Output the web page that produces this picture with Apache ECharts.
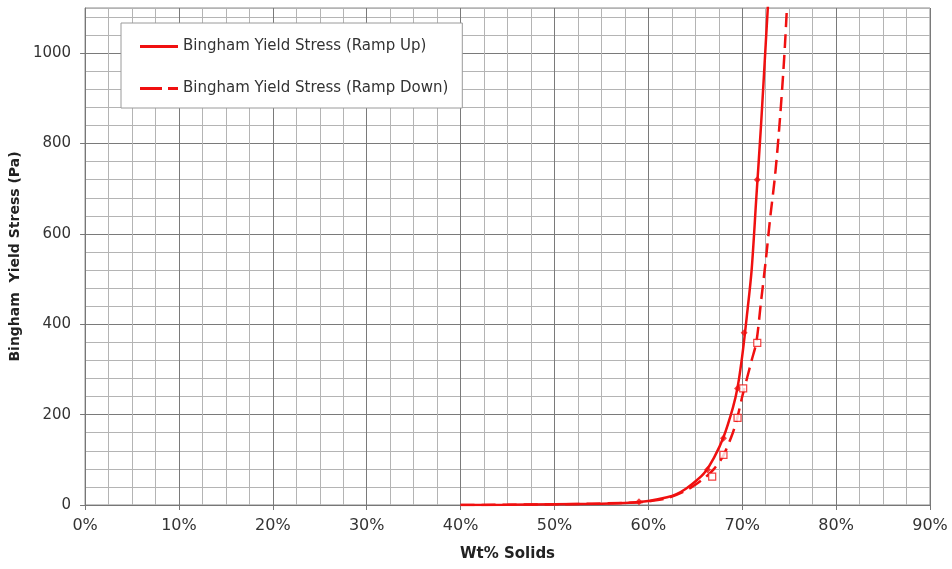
<!DOCTYPE html>
<html>
<head>
<meta charset="utf-8">
<script src="https://cdn.jsdelivr.net/npm/echarts@6/dist/echarts.min.js"></script>
<style>html,body{margin:0;padding:0;background:#fff}#c{width:952px;height:569px}</style>
</head>
<body>
<div id="c"></div>
<script>
// Wt% solids (x) and Bingham yield stress in Pa (y)
const rampUpX   = [40, 45, 50, 55, 58, 60, 62, 63, 64, 65, 66, 67, 68, 69, 69.5, 70, 70.5, 71, 71.5, 72, 72.5, 73];
const rampUpY   = [0, 0.5, 1.5, 3, 5, 9, 17, 24, 36, 52, 72, 105, 150, 215, 260, 330, 420, 520, 680, 840, 1020, 1200];
const rampDownX = [40, 50, 58, 60, 62, 64, 65, 66, 67, 68, 69, 69.5, 70, 70.5, 71, 71.5, 72, 72.5, 73, 73.5, 74, 74.5, 75];
const rampDownY = [0, 1.5, 5, 8, 15, 32, 45, 60, 80, 110, 160, 195, 240, 280, 320, 360, 450, 540, 640, 730, 850, 1000, 1200];
// measured points (markers)
const upPtsX   = [59, 66.3, 68, 69.5, 70.2, 71.6];
const upPtsY   = [7, 78, 148, 258, 381, 720];
const downPtsX = [66.8, 68, 69.5, 70.1, 71.6];
const downPtsY = [63, 111, 193, 258, 359];
const xTicks = [0, 10, 20, 30, 40, 50, 60, 70, 80, 90];
const yTicks = [0, 200, 400, 600, 800, 1000];
const nameUp = 'Bingham Yield Stress (Ramp Up)';
const nameDown = 'Bingham Yield Stress (Ramp Down)';

const zip = (a, b) => a.map((v, i) => [v, b[i]]);
const RED = '#f01010';
const DARK = '#7a7a7a', LIGHT = '#b4b4b4';
const FONT = 'DejaVu Sans';

const chart = echarts.init(document.getElementById('c'));
chart.setOption({
  animation: false,
  textStyle: { fontFamily: FONT },
  grid: { left: 84, right: 22, top: 8, bottom: 64, show: true, borderColor: '#8a8a8a', borderWidth: 1 },
  legend: {
    orient: 'vertical', left: 121, top: 23,
    data: [
      { name: nameUp, icon: 'path://M0,0H38V3H0Z' },
      { name: nameDown, icon: 'path://M0,0H22V3H0Z M28,0H38V3H28Z' }
    ],
    backgroundColor: '#fff', borderColor: '#9a9a9a', borderWidth: 1,
    padding: [16, 14, 12, 19], itemGap: 27, itemWidth: 38, itemHeight: 3,
    itemStyle: { color: RED },
    textStyle: { fontFamily: FONT, fontSize: 15, color: '#333', lineHeight: 14 }
  },
  xAxis: {
    type: 'value', min: xTicks[0], max: xTicks[xTicks.length - 1], interval: 10,
    name: 'Wt% Solids', nameLocation: 'middle', nameGap: 42,
    nameTextStyle: { fontFamily: FONT, fontWeight: 'bold', fontSize: 15, color: '#222' },
    axisLine: { lineStyle: { color: '#777', width: 1 } },
    axisTick: { show: true, length: 5, lineStyle: { color: '#777' } },
    axisLabel: { formatter: '{value}%', fontSize: 16, color: '#333', margin: 13 },
    splitLine: { show: true, lineStyle: { color: DARK, width: 1 } },
    minorTick: { show: false, splitNumber: 4 },
    minorSplitLine: { show: true, lineStyle: { color: LIGHT, width: 1 } }
  },
  yAxis: [{
    type: 'value', min: 0, max: 1100, interval: 200,
    name: 'Bingham  Yield Stress (Pa)', nameLocation: 'middle', nameGap: 57, nameRotate: 90,
    nameTextStyle: { fontFamily: FONT, fontWeight: 'bold', fontSize: 14, color: '#222' },
    axisLine: { show: true, lineStyle: { color: '#777', width: 1 } },
    axisTick: { show: true, length: 5, lineStyle: { color: '#777' } },
    axisLabel: { fontSize: 15, color: '#333', margin: 14, showMaxLabel: false, formatter: v => String(v) },
    splitLine: { show: false }
  }, {
    type: 'value', min: 0, max: 1100, interval: 40,
    axisLine: { show: false }, axisTick: { show: false }, axisLabel: { show: false },
    splitLine: { show: true, lineStyle: { color: [DARK, LIGHT, LIGHT, LIGHT, LIGHT], width: 1 } }
  }],
  series: [
    { name: nameUp, type: 'line', yAxisIndex: 0, smooth: 0.3, showSymbol: false, symbol: 'none',
      data: zip(rampUpX, rampUpY), lineStyle: { color: RED, width: 2.5 }, itemStyle: { color: RED }, z: 3 },
    { name: nameDown, type: 'line', yAxisIndex: 0, smooth: 0.3, showSymbol: false, symbol: 'none',
      data: zip(rampDownX, rampDownY), lineStyle: { color: RED, width: 2.5, type: [14, 7] }, itemStyle: { color: RED }, z: 3 },
    { name: 'up points', type: 'scatter', yAxisIndex: 0, symbol: 'diamond', symbolSize: 7,
      data: zip(upPtsX, upPtsY), itemStyle: { color: RED }, z: 4 },
    { name: 'down points', type: 'scatter', yAxisIndex: 0, symbol: 'rect', symbolSize: 7,
      data: zip(downPtsX, downPtsY), itemStyle: { color: '#fff', borderColor: RED, borderWidth: 1.2 }, z: 4 }
  ]
});
</script>
</body>
</html>
